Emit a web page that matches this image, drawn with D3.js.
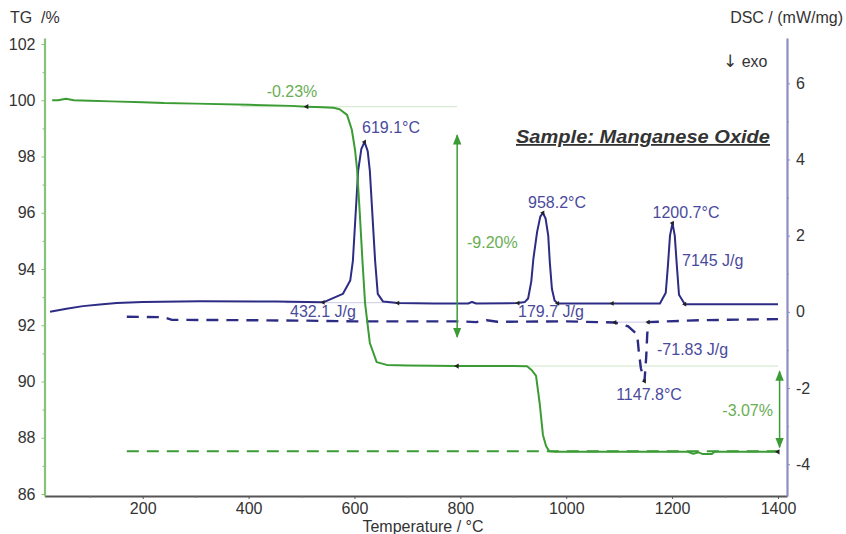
<!DOCTYPE html>
<html><head><meta charset="utf-8">
<script src="https://cdn.jsdelivr.net/npm/d3@7"></script>
<style>
html,body{margin:0;padding:0;background:#fff;}
svg{display:block;font-family:"Liberation Sans",Arial,sans-serif;}
</style></head>
<body>
<svg id="chart" width="846" height="534"></svg>
<script>
// ---------- data ----------
const xTicks = [200, 400, 600, 800, 1000, 1200, 1400];
const xMinorTicks = [100, 300, 500, 700, 900, 1100, 1300];
const tgTicks = [86, 88, 90, 92, 94, 96, 98, 100, 102];
const tgMinorTicks = [87, 89, 91, 93, 95, 97, 99, 101];
const dscTicks = [-4, -2, 0, 2, 4, 6];
const dscMinorTicks = [-3, -1, 1, 3, 5];

// TG (solid green), temperature in °C, mass in %
const tgTemp = [29, 40, 55, 70, 100, 140, 200, 240, 300, 400, 480, 510, 540, 560, 572, 586, 595, 601, 605, 610, 615, 620, 629, 642, 661, 700, 794, 900, 926, 935, 943, 950, 956, 962, 968, 980, 1100, 1230, 1240, 1250, 1258, 1275, 1280, 1400];
const tgMass = [100.0, 100.0, 100.05, 100.0, 99.98, 99.96, 99.93, 99.9, 99.88, 99.84, 99.8, 99.77, 99.75, 99.73, 99.68, 99.48, 98.95, 98.24, 97.53, 96.0, 94.32, 92.79, 91.37, 90.69, 90.59, 90.57, 90.55, 90.55, 90.54, 90.4, 90.2, 89.2, 88.1, 87.7, 87.52, 87.5, 87.5, 87.5, 87.43, 87.48, 87.42, 87.42, 87.5, 87.5];

// TG (dashed green)
const tgDashTemp = [170, 1400];
const tgDashMass = [87.52, 87.52];

// DSC (solid navy)
const dscTemp = [25, 56, 87, 119, 151, 200, 308, 450, 541, 578, 592, 597, 607, 613, 619.1, 625, 629, 639, 644, 654, 682, 750, 815, 822, 830, 909, 922, 928, 934, 938, 945, 951, 956, 961, 966, 969, 973, 978, 984, 1087, 1177, 1188, 1192, 1196, 1200.7, 1205, 1209, 1213, 1224, 1400];
const dscVal = [0.0, 0.08, 0.15, 0.19, 0.23, 0.26, 0.28, 0.27, 0.25, 0.47, 0.82, 1.34, 3.71, 4.28, 4.46, 4.22, 3.71, 1.34, 0.47, 0.27, 0.23, 0.22, 0.22, 0.26, 0.22, 0.23, 0.26, 0.35, 0.8, 1.4, 2.1, 2.5, 2.6, 2.45, 2.0, 1.3, 0.6, 0.3, 0.22, 0.22, 0.22, 0.5, 1.2, 2.0, 2.33, 2.0, 1.2, 0.45, 0.2, 0.2];

// DSC (dashed navy)
const dscDashTemp = [170, 240, 255, 400, 500, 600, 800, 830, 850, 870, 1000, 1092, 1117, 1134, 1137, 1141, 1147.8, 1151, 1153, 1155, 1250, 1400];
const dscDashVal = [-0.13, -0.14, -0.21, -0.22, -0.23, -0.25, -0.25, -0.27, -0.22, -0.26, -0.25, -0.28, -0.38, -0.59, -1.03, -1.48, -1.82, -1.2, -0.59, -0.27, -0.22, -0.19];

// annotation labels
const peakLabels = ["619.1°C", "958.2°C", "1200.7°C", "1147.8°C"];
const areaLabels = ["432.1 J/g", "179.7 J/g", "7145 J/g", "-71.83 J/g"];
const massLossLabels = ["-0.23%", "-9.20%", "-3.07%"];

// ---------- scales ----------
const L = 44.5, R = 787, B = 496, T = 38;
const x0 = d3.scaleLinear().domain([200, 1400]).range([142.7, 778]);
const x = d3.scaleLinear().domain([x0.invert(L), x0.invert(R)]).range([L, R]);
const yl0 = d3.scaleLinear().domain([86, 102]).range([494, 44]);
const yL = d3.scaleLinear().domain([yl0.invert(B), yl0.invert(T)]).range([B, T]);
const yr0 = d3.scaleLinear().domain([-4, 6]).range([464.2, 83.3]);
const yR = d3.scaleLinear().domain([yr0.invert(B), yr0.invert(T)]).range([B, T]);

const svg = d3.select("#chart");
const GREEN = "#3b9b34", GREEN_TXT = "#69ae55", GREEN_AX = "#86c378";
const NAVY = "#2c2c85", NAVY_TXT = "#4a4a9c", NAVY_AX = "#8d8dc4";
const TXT = "#333";
const plain = d => String(d);

// ---------- axes ----------
const gx = svg.append("g").attr("transform", `translate(0,${B})`)
  .call(d3.axisBottom(x).tickValues(xTicks).tickFormat(plain).tickSize(3).tickSizeOuter(0).tickPadding(4));
gx.select(".domain").attr("stroke", "#555").attr("stroke-width", 2);
gx.selectAll(".tick line").attr("stroke", "#555");
gx.selectAll(".tick text").attr("fill", TXT).style("font-size", "16px");
svg.append("g").attr("transform", `translate(0,${B})`)
  .call(d3.axisBottom(x).tickValues(xMinorTicks).tickSize(2).tickFormat(""))
  .call(g => { g.select(".domain").remove(); g.selectAll("line").attr("stroke", "#777"); });

const gl = svg.append("g").attr("transform", `translate(${L},0)`)
  .call(d3.axisLeft(yL).tickValues(tgTicks).tickFormat(plain).tickSize(3).tickSizeOuter(0).tickPadding(6));
gl.select(".domain").attr("stroke", GREEN_AX).attr("stroke-width", 2.2);
gl.selectAll(".tick line").attr("stroke", GREEN_AX);
gl.selectAll(".tick text").attr("fill", TXT).style("font-size", "16px");
svg.append("g").attr("transform", `translate(${L},0)`)
  .call(d3.axisLeft(yL).tickValues(tgMinorTicks).tickSize(2).tickFormat(""))
  .call(g => { g.select(".domain").remove(); g.selectAll("line").attr("stroke", GREEN_AX); });

const gr = svg.append("g").attr("transform", `translate(${R},0)`)
  .call(d3.axisRight(yR).tickValues(dscTicks).tickFormat(plain).tickSize(3).tickSizeOuter(0).tickPadding(6));
gr.select(".domain").attr("stroke", NAVY_AX).attr("stroke-width", 2.2);
gr.selectAll(".tick line").attr("stroke", NAVY_AX);
gr.selectAll(".tick text").attr("fill", TXT).style("font-size", "16px");
svg.append("g").attr("transform", `translate(${R},0)`)
  .call(d3.axisRight(yR).tickValues(dscMinorTicks).tickSize(2).tickFormat(""))
  .call(g => { g.select(".domain").remove(); g.selectAll("line").attr("stroke", NAVY_AX); });

// axis titles
svg.append("text").attr("x", 10).attr("y", 23).attr("fill", TXT).style("font-size", "16px").text("TG\u00a0 /%");
svg.append("text").attr("x", 843).attr("y", 23).attr("text-anchor", "end").attr("fill", TXT).style("font-size", "16px").text("DSC / (mW/mg)");
const exo = svg.append("text").attr("x", 723).attr("y", 67).attr("fill", TXT).style("font-size", "16px");
exo.append("tspan").style("font-family", "'DejaVu Sans'").style("font-size", "17px").text("↓");
exo.append("tspan").text(" exo");
svg.append("text").attr("x", 423).attr("y", 532).attr("text-anchor", "middle").attr("fill", TXT).style("font-size", "16px").text("Temperature / °C");

// sample title
svg.append("text").attr("x", 516).attr("y", 143).attr("fill", TXT)
  .attr("textLength", 254).attr("lengthAdjust", "spacingAndGlyphs")
  .style("font-size", "18px").style("font-weight", "bold").style("font-style", "italic")
  .style("text-decoration", "underline").text("Sample: Manganese Oxide");

// ---------- faint reference lines ----------
svg.append("line").attr("x1", x(385)).attr("x2", x(794)).attr("y1", yL(99.77)).attr("y2", yL(99.77))
  .attr("stroke", "#cfe6c8").attr("stroke-width", 1);
svg.append("line").attr("x1", x(794)).attr("x2", x(1400)).attr("y1", yL(90.55)).attr("y2", yL(90.55))
  .attr("stroke", "#cfe6c8").attr("stroke-width", 1);
svg.append("line").attr("x1", x(470)).attr("x2", x(682)).attr("y1", yR(0.24)).attr("y2", yR(0.24))
  .attr("stroke", "#c9c9e6").attr("stroke-width", 1);
svg.append("line").attr("x1", x(1092)).attr("x2", x(1155)).attr("y1", yR(-0.27)).attr("y2", yR(-0.27))
  .attr("stroke", "#c9c9e6").attr("stroke-width", 1);

// ---------- curves ----------
const lineL = d3.line().x(d => x(d[0])).y(d => yL(d[1]));
const lineR = d3.line().x(d => x(d[0])).y(d => yR(d[1]));

svg.append("path").datum(tgDashTemp.map((t, i) => [t, tgDashMass[i]]))
  .attr("d", lineL).attr("fill", "none").attr("stroke", GREEN).attr("stroke-width", 2.2).attr("stroke-dasharray", "12,8");
svg.append("path").datum(dscDashTemp.map((t, i) => [t, dscDashVal[i]]))
  .attr("d", lineR).attr("fill", "none").attr("stroke", NAVY).attr("stroke-width", 2.4).attr("stroke-dasharray", "12,8");
svg.append("path").datum(dscTemp.map((t, i) => [t, dscVal[i]]))
  .attr("d", lineR).attr("fill", "none").attr("stroke", NAVY).attr("stroke-width", 2).attr("stroke-linejoin", "round");
svg.append("path").datum(tgTemp.map((t, i) => [t, tgMass[i]]))
  .attr("d", lineL).attr("fill", "none").attr("stroke", GREEN).attr("stroke-width", 2).attr("stroke-linejoin", "round");

// ---------- markers ----------
function interp(ts, vs, t) {
  for (let i = 1; i < ts.length; i++) if (t <= ts[i]) {
    const f = (t - ts[i - 1]) / (ts[i] - ts[i - 1]); return vs[i - 1] + f * (vs[i] - vs[i - 1]);
  }
  return vs[vs.length - 1];
}
const tgMarks = [510, 794, 1400];
const dscMarks = [541, 682, 909, 984, 1087, 1224, 619.1, 956, 1200.7];
const dscDashMarks = [1092, 1155, 1147.8];
const mk = svg.append("g").attr("fill", "#222");
tgMarks.forEach(t => mk.append("path").attr("d", d3.symbol(d3.symbolTriangle, 12)())
  .attr("transform", `translate(${x(t)},${yL(interp(tgTemp, tgMass, t))}) rotate(-90)`));
dscMarks.forEach(t => mk.append("path").attr("d", d3.symbol(d3.symbolTriangle, 10)())
  .attr("transform", `translate(${x(t)},${yR(interp(dscTemp, dscVal, t))}) rotate(-90)`));
dscDashMarks.forEach(t => mk.append("path").attr("d", d3.symbol(d3.symbolTriangle, 10)())
  .attr("transform", `translate(${x(t)},${yR(interp(dscDashTemp, dscDashVal, t))}) rotate(-90)`));

// ---------- arrows ----------
const defs = svg.append("defs");
defs.append("marker").attr("id", "ah").attr("viewBox", "0 0 10 10").attr("refX", 9).attr("refY", 5)
  .attr("markerWidth", 7).attr("markerHeight", 7).attr("orient", "auto-start-reverse")
  .append("path").attr("d", "M0,1 L10,5 L0,9 z").attr("fill", GREEN);
svg.append("line").attr("x1", x(794)).attr("x2", x(794)).attr("y1", yL(98.76)).attr("y2", yL(91.58))
  .attr("stroke", GREEN).attr("stroke-width", 1.5).attr("marker-start", "url(#ah)").attr("marker-end", "url(#ah)");
svg.append("line").attr("x1", x(1403)).attr("x2", x(1403)).attr("y1", yL(90.36)).attr("y2", yL(87.66))
  .attr("stroke", GREEN).attr("stroke-width", 1.5).attr("marker-start", "url(#ah)").attr("marker-end", "url(#ah)");

// ---------- text annotations ----------
const ann = (xx, yy, txt, col, anchor) => svg.append("text").attr("x", xx).attr("y", yy)
  .attr("text-anchor", anchor || "start").attr("fill", col).style("font-size", "16px").text(txt);
ann(292, 97, massLossLabels[0], GREEN_TXT, "middle");
ann(362, 133, peakLabels[0], NAVY_TXT);
ann(557, 208, peakLabels[1], NAVY_TXT, "middle");
ann(686, 218, peakLabels[2], NAVY_TXT, "middle");
ann(649, 400, peakLabels[3], NAVY_TXT, "middle");
ann(682, 266, areaLabels[2], NAVY_TXT);
ann(290, 317, areaLabels[0], NAVY_TXT);
ann(518, 317, areaLabels[1], NAVY_TXT);
ann(657, 355, areaLabels[3], NAVY_TXT);
ann(467, 248, massLossLabels[1], GREEN_TXT);
ann(773, 416, massLossLabels[2], GREEN_TXT, "end");
</script>
</body></html>
